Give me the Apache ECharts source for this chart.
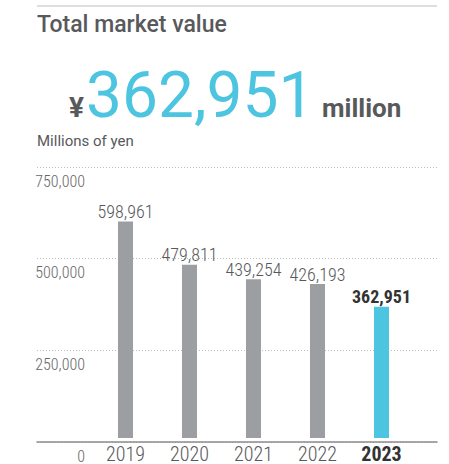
<!DOCTYPE html>
<html><head><meta charset="utf-8">
<script src="https://cdn.jsdelivr.net/npm/echarts@6/dist/echarts.min.js"></script>
<style>html,body{margin:0;padding:0;background:#fff}#c{width:449px;height:464px}</style>
</head><body><div id="c"></div>
<script>
const years = ['2019', '2020', '2021', '2022', '2023'];
const values = [598961, 479811, 439254, 426193, 362951];
const yTicks = [0, 250000, 500000, 750000];
const titleText = 'Total market value';
const unitText = 'Millions of yen';

const fmt = v => v.toLocaleString('en-US');
const GREY = '#9d9ea2', CYAN = '#4dc5e0', TXT = '#58595b';
const NARROW = '"Roboto Condensed", "Roboto", sans-serif';
const last = values.length - 1;

const chart = echarts.init(document.getElementById('c'), null, {renderer: 'svg'});
chart.setOption({
  animation: false,
  title: {text: titleText, left: 37, top: 13, padding: 0,
    textStyle: {fontFamily: 'Roboto', fontWeight: 500, fontSize: 23, color: TXT}},
  graphic: [
    {type: 'line', shape: {x1: 37, y1: 6, x2: 437, y2: 6}, style: {stroke: '#d3d3d3', lineWidth: 1.5}},
    {type: 'text', left: 69, top: 93, style: {text: '¥', font: 'bold 28px Roboto', fill: TXT}},
    {type: 'text', left: 86, top: 63, style: {text: fmt(values[last]), font: '400 64px Roboto', fill: CYAN}},
    {type: 'text', left: 322, top: 95, style: {text: 'million', font: 'bold 26px Roboto', fill: TXT}},
    {type: 'text', left: 37, top: 133, style: {text: unitText, font: '15px Roboto', fill: TXT}}
  ],
  grid: [
    {left: 37, right: 12, top: 167, bottom: 22},
    {left: 93.5, right: 35.5, top: 167, bottom: 22}
  ],
  xAxis: [
    {gridIndex: 0, type: 'value', min: 0, max: 1, axisLabel: {show: false}, axisTick: {show: false},
     splitLine: {show: false}, axisLine: {show: true, lineStyle: {color: '#8c8c8c', width: 1.5}}},
    {gridIndex: 1, type: 'category', data: years, axisLine: {show: false}, axisTick: {show: false},
     axisLabel: {interval: 0, margin: 6, fontSize: 20, fontFamily: NARROW, fontWeight: 300, color: TXT,
       formatter: (v, i) => i === last ? '{b|' + v + '}' : v,
       rich: {b: {fontSize: 20, fontFamily: NARROW, fontWeight: 'bold', color: '#333'}}}}
  ],
  yAxis: [
    {gridIndex: 0, type: 'value', min: yTicks[0], max: yTicks[yTicks.length - 1], interval: yTicks[1] - yTicks[0],
     axisLine: {show: false}, axisTick: {show: false},
     axisLabel: {inside: true, margin: 48, align: 'right', verticalAlign: 'top', padding: [6, 0, 0, 0],
       fontSize: 16, fontFamily: NARROW, fontWeight: 300, color: '#666', formatter: v => fmt(v)},
     splitLine: {show: true, lineStyle: {color: '#bdbdbd', type: [1, 2], width: 1}}},
    {gridIndex: 1, type: 'value', min: yTicks[0], max: yTicks[yTicks.length - 1], show: false, splitLine: {show: false}}
  ],
  series: [{
    type: 'bar', xAxisIndex: 1, yAxisIndex: 1, barWidth: 15,
    data: values.map((v, i) => ({
      value: v,
      itemStyle: {color: i === last ? CYAN : GREY},
      label: i === last ? {fontWeight: 'bold', color: '#333'} : {}
    })),
    label: {show: true, position: 'top', distance: 1, fontSize: 18, fontFamily: NARROW, fontWeight: 300, color: TXT,
      formatter: p => fmt(p.value)}
  }]
});
</script></body></html>
